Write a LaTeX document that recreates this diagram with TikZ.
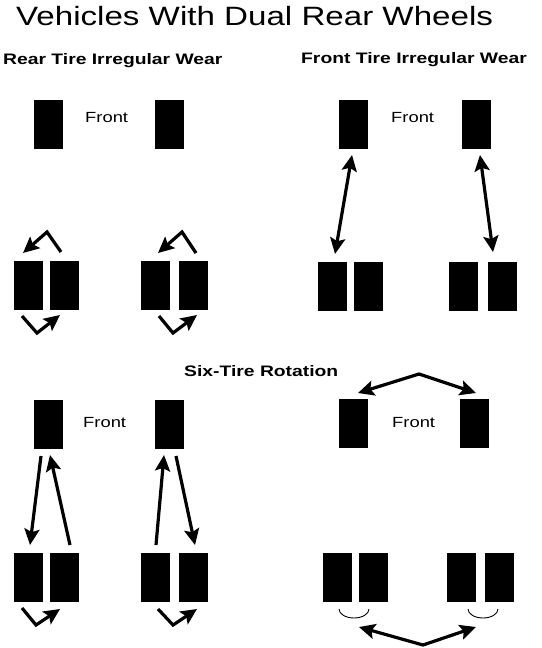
\documentclass[tikz,border=0pt]{standalone}
\usepackage{fontspec}
\setmainfont{Liberation Sans}
\usepackage{graphicx}
\usetikzlibrary{arrows.meta}
\tikzset{
  tire/.style={rectangle, draw=none, fill=black, minimum width=29pt, minimum height=49pt, inner sep=0pt, outer sep=0pt},
  tip/.style={},
  arr/.style={line width=3.2pt, line join=miter, -{Stealth[length=16pt,width=15pt,inset=3pt]}},
  darr/.style={line width=3.2pt, {Stealth[length=16pt,width=15pt,inset=3pt]}-{Stealth[length=16pt,width=15pt,inset=3pt]}},
  ttl/.style={anchor=base west, inner sep=0pt, font=\fontsize{26.5}{30}\selectfont},
  hdr/.style={anchor=base west, inner sep=0pt, font=\bfseries\fontsize{15.2}{18}\selectfont},
  frt/.style={anchor=base west, inner sep=0pt, font=\fontsize{14.7}{17}\selectfont},
  smile/.style={line width=0.9pt},
}
\begin{document}
\begin{tikzpicture}[x=1pt, y=-1pt]
\useasboundingbox[fill=white] (0,0) rectangle (541,648);

% texts
\node[ttl] (title) at (16,25) {\scalebox{1.25}[1]{Vehicles With Dual Rear Wheels}};
\node[hdr] (hrear) at (3,64) {\scalebox{1.27}[1]{Rear Tire Irregular Wear}};
\node[hdr] (hfront) at (301,63) {\scalebox{1.27}[1]{Front Tire Irregular Wear}};
\node[hdr] (hsix) at (184,376) {\scalebox{1.27}[1]{Six-Tire Rotation}};
\node[frt] (f1) at (85,122) {\scalebox{1.25}[1]{Front}};
\node[frt] (f2) at (391,122) {\scalebox{1.25}[1]{Front}};
\node[frt] (f3) at (83,427) {\scalebox{1.25}[1]{Front}};
\node[frt] (f4) at (392,427) {\scalebox{1.25}[1]{Front}};

% ---------- top-left panel: rear tire irregular wear ----------
\node[tire] (a-f1) at (48.5,124.5) {};
\node[tire] (a-f2) at (169,124.5) {};
\node[tire] (a-r1) at (28.5,285.5) {};
\node[tire] (a-r2) at (64.5,285.5) {};
\node[tire] (a-r3) at (155,285.5) {};
\node[tire] (a-r4) at (193,285.5) {};
\coordinate (a1s) at (61,252); \coordinate (a1m) at (47,232); \coordinate (a1e) at (23,253);
\coordinate (a2s) at (22,316); \coordinate (a2m) at (37,333); \coordinate (a2e) at (60,315);
\coordinate (a3s) at (196,253); \coordinate (a3m) at (182,232); \coordinate (a3e) at (158,253);
\coordinate (a4s) at (159,316); \coordinate (a4m) at (173,333); \coordinate (a4e) at (197,315);
\draw[arr] (a1s) -- (a1m) -- (a1e);
\draw[arr] (a2s) -- (a2m) -- (a2e);
\draw[arr] (a3s) -- (a3m) -- (a3e);
\draw[arr] (a4s) -- (a4m) -- (a4e);

% ---------- top-right panel: front tire irregular wear ----------
\node[tire] (b-f1) at (353.5,124.5) {};
\node[tire] (b-f2) at (476.5,124.5) {};
\node[tire] (b-r1) at (332.5,286) {};
\node[tire] (b-r2) at (368.5,286) {};
\node[tire] (b-r3) at (463.5,286) {};
\node[tire] (b-r4) at (502,286) {};
\coordinate (b1s) at (352,155); \coordinate (b1e) at (335,254);
\coordinate (b2s) at (480,155); \coordinate (b2e) at (493,252);
\draw[darr] (b1s) -- (b1e);
\draw[darr] (b2s) -- (b2e);

% ---------- bottom-left panel: six-tire rotation ----------
\node[tire] (c-f1) at (48.5,424.5) {};
\node[tire] (c-f2) at (169.5,424.5) {};
\node[tire] (c-r1) at (28.5,577.5) {};
\node[tire] (c-r2) at (64.5,577.5) {};
\node[tire] (c-r3) at (155,577.5) {};
\node[tire] (c-r4) at (193.5,577.5) {};
\coordinate (c1s) at (41,456); \coordinate (c1e) at (30,545);
\coordinate (c2s) at (70,545); \coordinate (c2e) at (50,455);
\coordinate (c3s) at (156,545); \coordinate (c3e) at (164,455);
\coordinate (c4s) at (176,456); \coordinate (c4e) at (195,545);
\draw[arr] (c1s) -- (c1e);
\draw[arr] (c2s) -- (c2e);
\draw[arr] (c3s) -- (c3e);
\draw[arr] (c4s) -- (c4e);
\coordinate (c5s) at (22,608); \coordinate (c5m) at (36,625); \coordinate (c5e) at (60,609);
\coordinate (c6s) at (158,609); \coordinate (c6m) at (173,625); \coordinate (c6e) at (197,609);
\draw[arr] (c5s) -- (c5m) -- (c5e);
\draw[arr] (c6s) -- (c6m) -- (c6e);

% ---------- bottom-right panel ----------
\node[tire] (d-f1) at (353.5,423.5) {};
\node[tire] (d-f2) at (474.5,423.5) {};
\node[tire] (d-r1) at (337,577.5) {};
\node[tire] (d-r2) at (373.5,577.5) {};
\node[tire] (d-r3) at (461.5,577.5) {};
\node[tire] (d-r4) at (499.5,577.5) {};
\coordinate (d1l) at (358,393); \coordinate (d1m) at (419,374); \coordinate (d1r) at (476,393);
\draw[darr] (d1l) -- (d1m) -- (d1r);
\coordinate (d2l) at (359,627); \coordinate (d2m) at (423,645); \coordinate (d2r) at (476,627);
\draw[darr] (d2l) -- (d2m) -- (d2r);
\coordinate (s1) at (339,609); \coordinate (s2) at (468,609);
\draw[smile] (s1) arc[start angle=180, end angle=0, x radius=15, y radius=9];
\draw[smile] (s2) arc[start angle=180, end angle=0, x radius=15, y radius=9];
\end{tikzpicture}
\end{document}
